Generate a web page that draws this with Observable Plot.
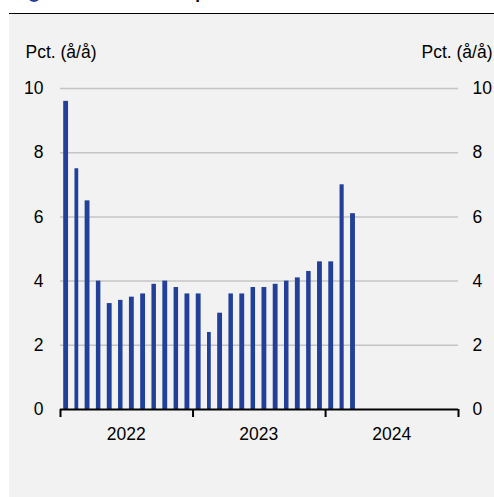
<!DOCTYPE html>
<html><head><meta charset="utf-8">
<script src="https://cdn.jsdelivr.net/npm/d3@7"></script>
<script src="https://cdn.jsdelivr.net/npm/@observablehq/plot@0.6"></script>
<style>
html,body{margin:0;padding:0;background:#fff;width:494px;height:497px;overflow:hidden;font-family:"Liberation Sans",Arial,sans-serif}
#panel{position:absolute;left:9px;top:13px;width:485px;height:484px;background:#f2f2f2;border-top:1px solid #000;box-sizing:border-box}
#dot{position:absolute;left:28px;top:-10px;width:12px;height:12px;border-radius:50%;background:#22409a}
#title{position:absolute;left:44px;top:-15px;font-size:17px;line-height:17px;font-weight:bold;white-space:nowrap;color:#000}
#chart{position:absolute;left:0;top:0}
</style></head><body>
<div id="panel"></div>
<div id="dot"></div>
<div id="title">Inflationen er sat op</div>
<div id="chart"></div>
<script>
const months = ["2022-01","2022-02","2022-03","2022-04","2022-05","2022-06","2022-07","2022-08","2022-09","2022-10","2022-11","2022-12",
                "2023-01","2023-02","2023-03","2023-04","2023-05","2023-06","2023-07","2023-08","2023-09","2023-10","2023-11","2023-12",
                "2024-01","2024-02","2024-03"];
const values = [9.6,7.5,6.5,4.0,3.3,3.4,3.5,3.6,3.9,4.0,3.8,3.6,
                3.6,2.4,3.0,3.6,3.6,3.8,3.8,3.9,4.0,4.1,4.3,4.6,
                4.6,7.0,6.1];
const yTicks = [0,2,4,6,8,10];
const yearBounds = ["2022","2023","2024","2025"];
const yearLabels = ["2022","2023","2024"];
const yAxisLabel = "Pct. (å/å)";

const parseMonth = d3.utcParse("%Y-%m");
const parseYear = d3.utcParse("%Y");
const data = months.map((m,i)=>({date: parseMonth(m), value: values[i]}));
const boundDates = yearBounds.map(parseYear);
const midDates = yearLabels.map(y => parseMonth(y + "-07"));

const chart = Plot.plot({
  width: 494, height: 497,
  marginLeft: 60, marginRight: 36, marginTop: 88, marginBottom: 88,
  style: {background: "transparent", fontFamily: "'Liberation Sans', Arial, sans-serif", fontSize: "17.5px", color: "#000", overflow: "visible"},
  x: {type: "utc", domain: [boundDates[0], boundDates[boundDates.length-1]]},
  y: {domain: [0, 10]},
  marks: [
    Plot.gridY(yTicks.filter(d => d > 0), {stroke: "#c4c4c4", strokeOpacity: 1, strokeWidth: 1.5}),
    Plot.rectY(data, {x: "date", y: "value", interval: "month", insetLeft: 3.2, insetRight: 3.2, fill: "#22409a"}),
    Plot.ruleY([0], {stroke: "#000", strokeWidth: 2}),
    Plot.axisY(yTicks, {anchor: "left", tickSize: 0, tickPadding: 17, label: null}),
    Plot.axisY(yTicks, {anchor: "right", tickSize: 0, tickPadding: 14, label: null}),
    Plot.axisX(boundDates, {anchor: "bottom", tickSize: 8, strokeWidth: 2, stroke: "#000", tickFormat: () => "", label: null}),
    Plot.axisX(midDates, {anchor: "bottom", tickSize: 0, tickPadding: 18, tickFormat: d3.utcFormat("%Y"), label: null}),
    Plot.text([yAxisLabel], {text: d => d, frameAnchor: "top-left", dx: -35, dy: -31, textAnchor: "start", lineAnchor: "bottom"}),
    Plot.text([yAxisLabel], {text: d => d, frameAnchor: "top-right", dx: 34, dy: -31, textAnchor: "end", lineAnchor: "bottom"})
  ]
});
document.getElementById("chart").appendChild(chart);
</script>
</body></html>
